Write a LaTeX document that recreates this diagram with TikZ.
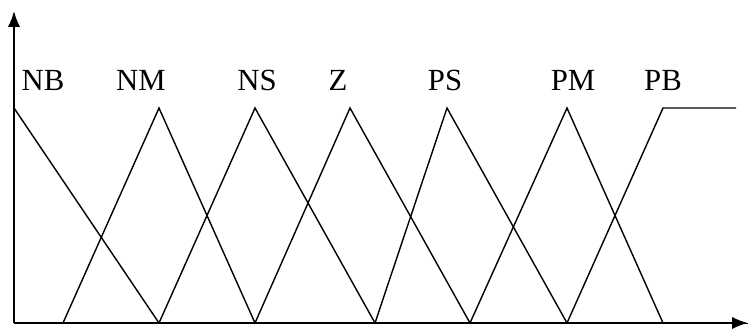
\documentclass[tikz,border=0pt]{standalone}
\usepackage{fontspec}
\setmainfont{Liberation Serif}
\usetikzlibrary{arrows.meta}
\begin{document}
\begin{tikzpicture}[x=0.02cm,y=0.02cm,
    axis/.style={line width=1.1pt,-{Latex[length=9pt,width=7pt]}},
    mf/.style={line width=0.8pt,line join=miter},
    lbl/.style={anchor=base,inner sep=0pt,font=\fontsize{17.5}{20}\selectfont}]
      \useasboundingbox (0,0) rectangle (749,329);
      \draw
        (14,6) coordinate (o)
        (748,6) coordinate (xe)
        (14,318) coordinate (ye);
      \draw (o) to (xe);
      % feet on the axis
      \draw
        (63,6) coordinate (f1)
        (159,6) coordinate (f2)
        (255,6) coordinate (f3)
        (375,6) coordinate (f4)
        (470,6) coordinate (f5)
        (567,6) coordinate (f6)
        (663,6) coordinate (f7);
      % peaks
      \draw
        (14,221) coordinate (p0)
        (159,221) coordinate (p1)
        (255,221) coordinate (p2)
        (350,221) coordinate (p3)
        (447,221) coordinate (p4)
        (567,221) coordinate (p5)
        (663,221) coordinate (p6)
        (736,221) coordinate (p7);
      \draw
        (43,239) node[lbl] (nb){NB}
        (141,239) node[lbl] (nm){NM}
        (257,239) node[lbl] (ns){NS}
        (338,239) node[lbl] (z){Z}
        (445,239) node[lbl] (ps){PS}
        (573,239) node[lbl] (pm){PM}
        (663,239) node[lbl] (pb){PB};
      \begin{scope}[mf]
        \draw (p0) to (f2);
        \draw (f1) -- (p1) -- (f3);
        \draw (f2) -- (p2) -- (f4);
        \draw (f3) -- (p3) -- (f5);
        \draw (f4) -- (p4) -- (f6);
        \draw (f5) -- (p5) -- (f7);
        \draw (f6) -- (p6) -- (p7);
      \end{scope}
      \begin{scope}[axis]
        \draw (o) to (xe);
        \draw (o) to (ye);
      \end{scope}
    \end{tikzpicture}
\end{document}
